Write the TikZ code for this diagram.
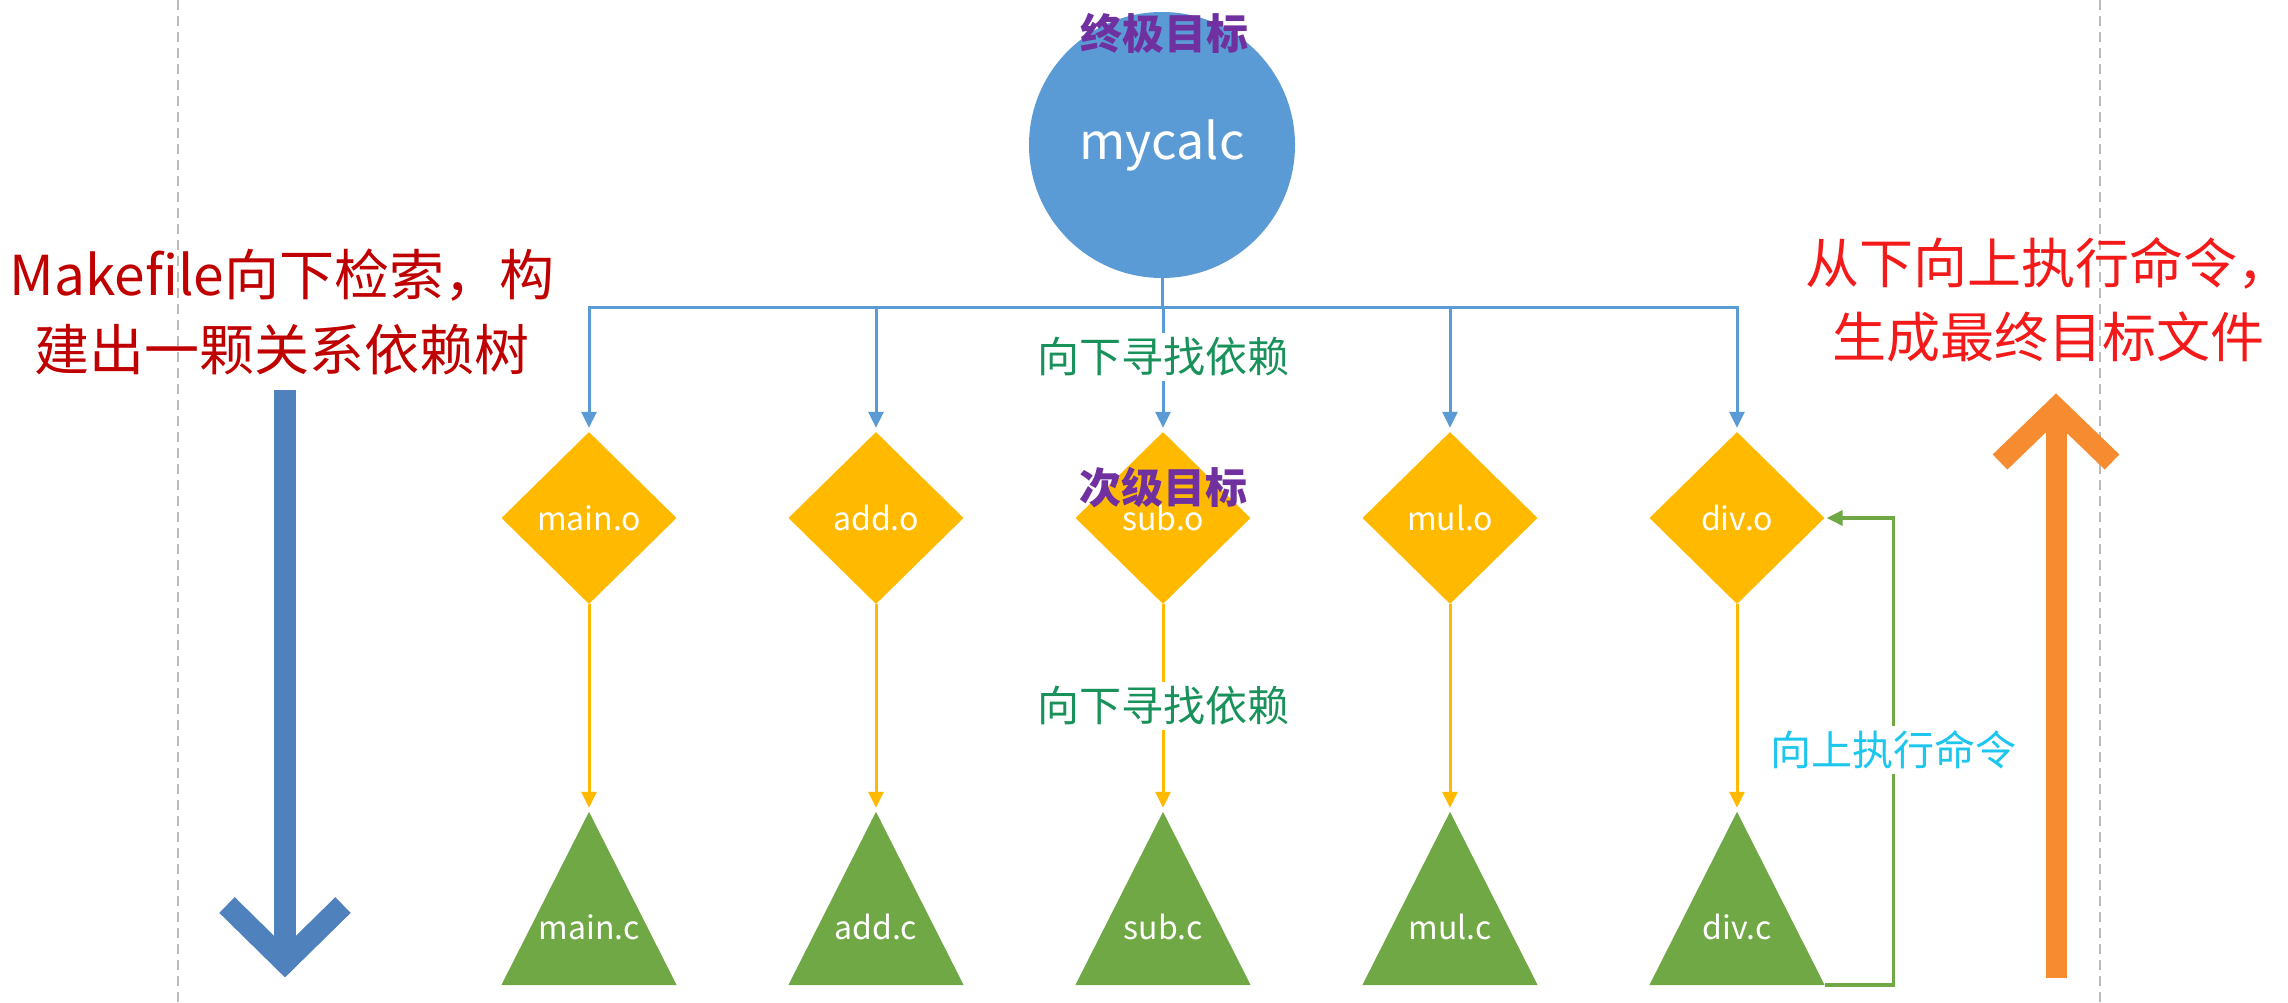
\documentclass[tikz,border=0pt]{standalone}
\usepackage{fontspec}
\setmainfont{Noto Sans CJK SC}
\usetikzlibrary{shapes.geometric,arrows.meta}
\definecolor{cblue}{HTML}{5B9BD5}
\definecolor{cgold}{HTML}{FFBA00}
\definecolor{cgreen}{HTML}{70A845}
\definecolor{bigblue}{HTML}{4F81BD}
\definecolor{bigorange}{HTML}{F68B2F}
\definecolor{cpurple}{HTML}{7030A0}
\definecolor{tgreen}{HTML}{18925A}
\definecolor{tcyan}{HTML}{1CC6EE}
\definecolor{lred}{HTML}{C00000}
\definecolor{rred}{HTML}{F41A1A}
\definecolor{dashgray}{HTML}{BBBBBB}
\begin{document}
\begin{tikzpicture}[x=1pt,y=-1pt,
  goalnode/.style={circle, fill=cblue, minimum size=266pt, inner sep=0pt, text=white, font=\fontsize{50}{60}\selectfont},
  objnode/.style={diamond, fill=cgold, minimum width=175pt, minimum height=172pt, inner sep=0pt, text=white, font=\fontsize{32}{38}\selectfont},
  srcbox/.style={rectangle, minimum width=175pt, minimum height=173pt, inner sep=0pt},
  srctext/.style={text=white, font=\fontsize{32}{38}\selectfont, inner sep=0pt},
  tagtext/.style={text=cpurple, font=\fontsize{42}{48}\selectfont\bfseries, inner sep=0pt},
  seeklabel/.style={text=tgreen, fill=white, font=\fontsize{42}{48}\selectfont, inner sep=5pt},
  cmdlabel/.style={text=tcyan, fill=white, font=\fontsize{41}{48}\selectfont, inner sep=5pt},
  barrow/.style={draw=cblue, line width=3pt, -{Triangle[length=16pt,width=15pt]}, shorten >=4pt},
  yarrow/.style={draw=cgold, line width=3pt, -{Triangle[length=16pt,width=15pt]}, shorten >=4pt},
  garrow/.style={draw=cgreen, line width=3.5pt, -{Triangle[length=16pt,width=15pt]}, shorten >=2pt},
  bigblueline/.style={draw=bigblue, line width=22pt, line join=miter},
  bigorangeline/.style={draw=bigorange, line width=21pt, line join=miter},
  sideguide/.style={draw=dashgray, line width=1.5pt, dash pattern=on 10pt off 6pt},
  lefttext/.style={text=lred, align=center, font=\fontsize{55}{75}\selectfont, inner sep=0pt},
  righttext/.style={text=rred, align=center, font=\fontsize{54}{74}\selectfont, inner sep=0pt}
]
\useasboundingbox (0,0) rectangle (2288,1003);
\fill[white] (0,0) rectangle (2288,1003);

% side guides
\draw[sideguide] (178,0) -- (178,1003);
\draw[sideguide] (2100,0) -- (2100,1003);

% final goal
\node[goalnode] (goal) at (1162,145) {mycalc};
\node[tagtext] (goaltag) at (1164,33) {终极目标};

% objects and sources
\foreach \n/\x/\s in {1/589/main,2/876/add,3/1163/sub,4/1450/mul,5/1737/div}{
  \node[objnode] (o\n) at (\x,518) {\s.o};
  \node[srcbox] (c\n) at (\x,898.5) {};
  \fill[cgreen] (c\n.north) -- (c\n.south east) -- (c\n.south west) -- cycle;
  \node[srctext] (t\n) at (\x,927) {\s.c};
  \draw[yarrow] (o\n.south) -- (c\n.north);
  \draw[barrow] (goal.south) -- ++(0,29) -| (o\n.north);
}

\node[tagtext] (subtag) at (1163,488) {次级目标};
\node[seeklabel] (seek1) at (1163,357) {向下寻找依赖};
\node[seeklabel] (seek2) at (1163,706) {向下寻找依赖};

% return path
\draw[garrow] (c5.south east) -- ++(69,0) |- (o5.east);
\node[cmdlabel] (cmd) at (1893,750) {向上执行命令};

% big arrows
\draw[bigblueline] (285,390) -- (285,958);
\draw[bigblueline] (227,905) -- (285,962) -- (343,905);
\draw[bigorangeline] (2056,978) -- (2056,412);
\draw[bigorangeline] (2000,462) -- (2056,408) -- (2112,462);

% side texts
\node[lefttext] (lefttxt) at (282,312) {Makefile向下检索，构\\建出一颗关系依赖树};
\node[righttext] (righttxt) at (2048,300) {从下向上执行命令，\\生成最终目标文件};
\end{tikzpicture}
\end{document}
